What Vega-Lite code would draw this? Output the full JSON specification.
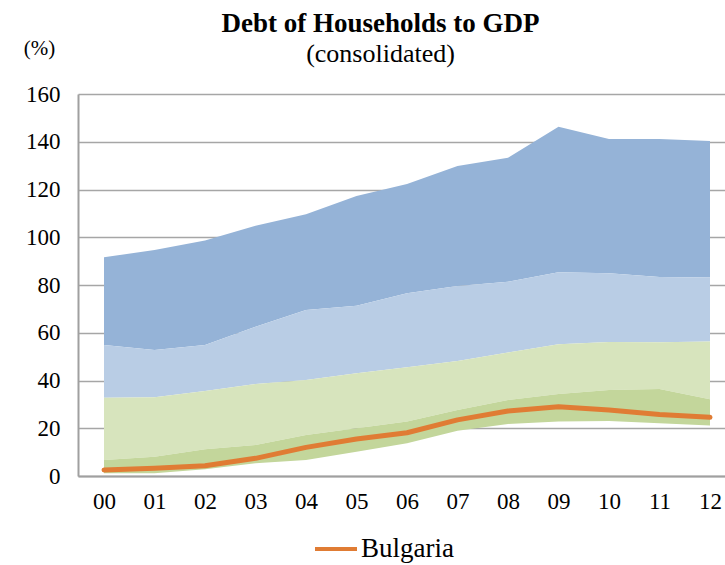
{
  "$schema": "https://vega.github.io/schema/vega-lite/v6.json",
  "width": 647,
  "height": 382,
  "autosize": {"type": "none"},
  "padding": {"left": 78, "top": 94, "right": 0, "bottom": 89},
  "background": "white",
  "config": {
    "font": "Liberation Serif",
    "view": {"stroke": null},
    "axis": {"labelFont": "Liberation Serif", "titleFont": "Liberation Serif", "labelColor": "black", "titleColor": "black"}
  },
  "title": {
    "text": "Debt of Households to GDP",
    "subtitle": "(consolidated)",
    "font": "Liberation Serif",
    "fontSize": 27,
    "fontWeight": "bold",
    "color": "black",
    "subtitleFont": "Liberation Serif",
    "subtitleFontSize": 26,
    "subtitleColor": "black",
    "subtitlePadding": 3,
    "anchor": "middle",
    "dx": -21,
    "offset": -31
  },
  "data": {
    "values": [
      {"year": 0, "lo": 1.1, "g1": 6.7, "g2": 32.8, "b1": 54.9, "hi": 91.6, "bg": 2.5},
      {"year": 1, "lo": 1.1, "g1": 8.1, "g2": 33.0, "b1": 52.8, "hi": 94.7, "bg": 3.2},
      {"year": 2, "lo": 2.8, "g1": 11.2, "g2": 35.6, "b1": 54.9, "hi": 98.6, "bg": 4.3},
      {"year": 3, "lo": 5.3, "g1": 13.0, "g2": 38.5, "b1": 62.5, "hi": 104.8, "bg": 7.4},
      {"year": 4, "lo": 6.7, "g1": 17.2, "g2": 40.2, "b1": 69.5, "hi": 109.6, "bg": 12.0},
      {"year": 5, "lo": 10.2, "g1": 20.0, "g2": 43.0, "b1": 71.3, "hi": 117.3, "bg": 15.5},
      {"year": 6, "lo": 13.7, "g1": 22.8, "g2": 45.5, "b1": 76.5, "hi": 122.3, "bg": 18.1},
      {"year": 7, "lo": 19.0, "g1": 27.6, "g2": 48.2, "b1": 79.6, "hi": 129.8, "bg": 23.5},
      {"year": 8, "lo": 21.8, "g1": 31.8, "g2": 51.7, "b1": 81.4, "hi": 133.3, "bg": 27.2},
      {"year": 9, "lo": 22.8, "g1": 34.3, "g2": 55.2, "b1": 85.3, "hi": 146.3, "bg": 29.0},
      {"year": 10, "lo": 23.0, "g1": 36.0, "g2": 56.1, "b1": 84.9, "hi": 141.2, "bg": 27.6},
      {"year": 11, "lo": 22.1, "g1": 36.4, "g2": 56.0, "b1": 83.4, "hi": 141.2, "bg": 25.8},
      {"year": 12, "lo": 21.2, "g1": 32.1, "g2": 56.3, "b1": 83.1, "hi": 140.3, "bg": 24.6}
    ]
  },
  "encoding": {
    "x": {
      "field": "year",
      "type": "quantitative",
      "scale": {"domain": [-0.515, 12.297], "nice": false, "zero": false},
      "axis": {
        "values": [0,1,2,3,4,5,6,7,8,9,10,11,12],
        "labelExpr": "datum.value < 10 ? '0' + datum.value : '' + datum.value",
        "title": null,
        "grid": false,
        "ticks": false,
        "domainColor": "#A0A0A0",
        "domainWidth": 2,
        "labelFontSize": 23,
        "labelPadding": 14,
        "labelFlush": false,
        "labelOverlap": false
      }
    }
  },
  "layer": [
    {
      "mark": {"type": "area", "color": "#95B3D7", "opacity": 1},
      "encoding": {
        "y": {
          "field": "hi",
          "type": "quantitative",
          "scale": {"domain": [0, 160], "nice": false},
          "axis": {
            "values": [0,20,40,60,80,100,120,140,160],
            "title": "(%)",
            "titleAngle": 0,
            "titleFontSize": 21,
            "titleFontWeight": "normal",
            "titleX": -39,
            "titleY": -40,
            "titleAlign": "center",
            "titleBaseline": "alphabetic",
            "grid": true,
            "gridColor": "#A6A6A6",
            "gridWidth": 1.5,
            "ticks": false,
            "domainColor": "#A0A0A0",
            "domainWidth": 2,
            "labelFontSize": 23,
            "labelPadding": 18
          }
        },
        "y2": {"field": "b1"}
      }
    },
    {
      "mark": {"type": "area", "color": "#B9CDE5", "opacity": 1},
      "encoding": {"y": {"field": "b1", "type": "quantitative"}, "y2": {"field": "g2"}}
    },
    {
      "mark": {"type": "area", "color": "#D7E4BD", "opacity": 1},
      "encoding": {"y": {"field": "g2", "type": "quantitative"}, "y2": {"field": "g1"}}
    },
    {
      "mark": {"type": "area", "color": "#C3D69B", "opacity": 1},
      "encoding": {"y": {"field": "g1", "type": "quantitative"}, "y2": {"field": "lo"}}
    },
    {
      "mark": {"type": "line", "strokeWidth": 5, "strokeCap": "round", "strokeJoin": "round"},
      "encoding": {
        "y": {"field": "bg", "type": "quantitative"},
        "color": {
          "datum": "Bulgaria",
          "scale": {"range": ["#E07C34"]},
          "legend": {
            "orient": "none",
            "legendX": 235,
            "legendY": 432,
            "title": null,
            "symbolType": "stroke",
            "symbolSize": 1764,
            "symbolStrokeWidth": 4,
            "labelFontSize": 27,
            "labelFont": "Liberation Serif",
            "labelColor": "black",
            "labelOffset": 2
          }
        }
      }
    }
  ]
}
